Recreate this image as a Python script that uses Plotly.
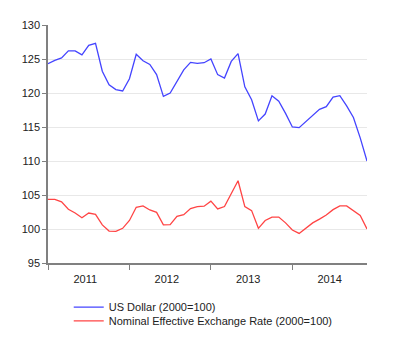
import plotly.graph_objects as go

months = list(range(48))  # Jan 2011 .. Dec 2014
year_labels = ["2011", "2012", "2013", "2014"]
year_label_pos = [5.5, 17.5, 29.5, 41.5]

us_dollar = [124.3, 124.8, 125.15, 126.2, 126.2, 125.6, 127.0, 127.3, 123.2, 121.2, 120.5, 120.3,
             122.1, 125.7, 124.75, 124.2, 122.7, 119.5, 120.0, 121.8, 123.4, 124.5, 124.35, 124.45,
             125.0, 122.7, 122.2, 124.65, 125.8, 120.9, 119.0, 115.9, 116.9, 119.6, 118.8, 117.0,
             115.0, 114.9, 115.8, 116.7, 117.6, 118.0, 119.4, 119.6, 118.1, 116.4, 113.4, 110.0]

neer = [104.35, 104.35, 104.0, 102.9, 102.35, 101.65, 102.35, 102.15, 100.6, 99.7, 99.65, 100.1,
        101.25, 103.2, 103.4, 102.8, 102.45, 100.6, 100.65, 101.85, 102.1, 103.0, 103.3, 103.35,
        104.1, 102.95, 103.3, 105.15, 107.1, 103.3, 102.7, 100.1, 101.25, 101.75, 101.75, 100.9,
        99.85, 99.35, 100.1, 100.9, 101.45, 102.05, 102.85, 103.4, 103.4, 102.75, 102.0, 100.0]

FONT = "Liberation Sans, Arial, sans-serif"

fig = go.Figure()
fig.add_trace(go.Scatter(x=months, y=us_dollar, mode="lines", name="US Dollar (2000=100)",
                         line=dict(color="#4444ff", width=1.3), legend="legend"))
fig.add_trace(go.Scatter(x=months, y=neer, mode="lines",
                         name="Nominal Effective Exchange Rate (2000=100)",
                         line=dict(color="#ff4444", width=1.3), legend="legend2"))

fig.update_layout(
    width=400, height=351,
    margin=dict(l=48, r=33, t=25, b=88),
    paper_bgcolor="white", plot_bgcolor="white",
    font=dict(family=FONT, size=11, color="#222"),
    showlegend=True,
    legend=dict(x=0.065, y=-0.185, xanchor="left", yanchor="middle",
                bgcolor="rgba(0,0,0,0)", font=dict(size=11, color="#222")),
    legend2=dict(x=0.065, y=-0.243, xanchor="left", yanchor="middle",
                 bgcolor="rgba(0,0,0,0)", font=dict(size=11, color="#222")),
    xaxis=dict(range=[0, 47], tickvals=year_label_pos, ticktext=year_labels,
               ticks="", showgrid=False, zeroline=False,
               showline=True, linecolor="#808080", linewidth=1.5,
               ticklabelstandoff=5,
               minor=dict(tick0=0, dtick=12, ticks="outside", ticklen=5,
                          tickcolor="#808080", tickwidth=1, showgrid=False)),
    yaxis=dict(range=[95, 130], tick0=95, dtick=5, ticks="outside", ticklen=4,
               tickcolor="#808080", showline=True, linecolor="#808080", linewidth=1.5,
               showgrid=True, gridcolor="#e8e8e8", gridwidth=1, zeroline=False),
)

fig.write_html("out.html")
